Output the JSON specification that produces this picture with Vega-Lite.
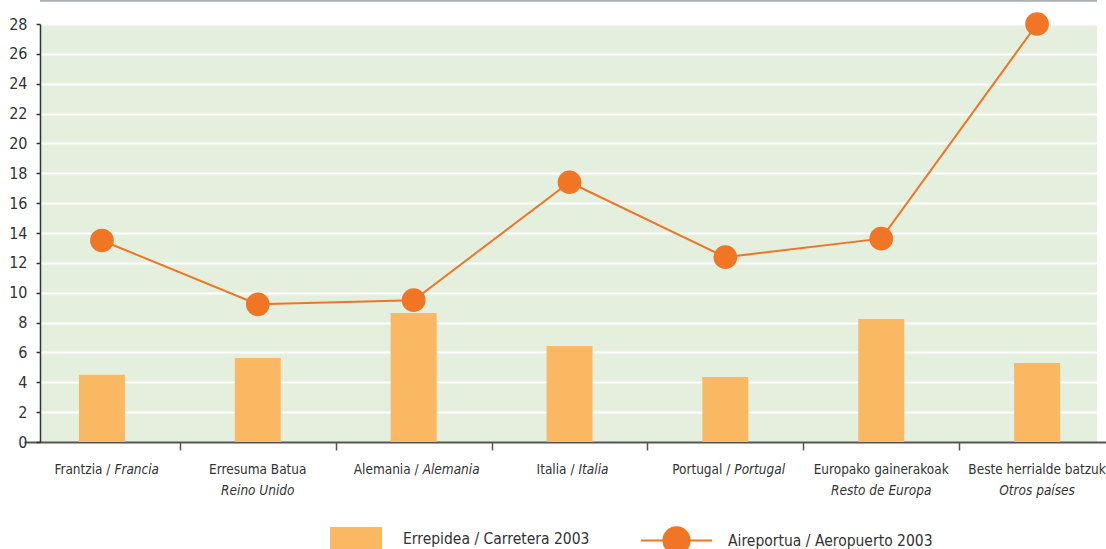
{
  "$schema": "https://vega.github.io/schema/vega-lite/v6.json",
  "width": 1057,
  "height": 418,
  "autosize": {"type": "none"},
  "padding": {"left": 40, "top": 24, "right": 9, "bottom": 107},
  "background": "white",
  "config": {
    "view": {"fill": "#E4EFDE", "stroke": null},
    "font": "Liberation Sans Narrow, DejaVu Sans Condensed, sans-serif",
    "axisY": {"tickCount": 30, "labelOverlap": false}
  },
  "data": {
    "values": [
      {"eu": "Frantzia", "n1": "Frantzia /", "i1": "Francia", "i2": "", "road": 4.5, "air": 13.5},
      {"eu": "Erresuma Batua", "n1": "Erresuma Batua", "i1": "", "i2": "Reino Unido", "road": 5.63, "air": 9.22},
      {"eu": "Alemania", "n1": "Alemania /", "i1": "Alemania", "i2": "", "road": 8.64, "air": 9.5},
      {"eu": "Italia", "n1": "Italia /", "i1": "Italia", "i2": "", "road": 6.43, "air": 17.4},
      {"eu": "Portugal", "n1": "Portugal /", "i1": "Portugal", "i2": "", "road": 4.36, "air": 12.38},
      {"eu": "Europako gainerakoak", "n1": "Europako gainerakoak", "i1": "", "i2": "Resto de Europa", "road": 8.24, "air": 13.62},
      {"eu": "Beste herrialde batzuk", "n1": "Beste herrialde batzuk", "i1": "", "i2": "Otros países", "road": 5.3, "air": 28.0}
    ]
  },
  "layer": [
    {
      "mark": {"type": "bar", "width": {"band": 0.295}},
      "encoding": {
        "x": {
          "field": "eu", "type": "nominal", "sort": null,
          "scale": {"range": [-16, 1075], "paddingInner": 0, "paddingOuter": 0},
          "axis": {
            "title": null, "labels": false, "grid": false, "domain": false,
            "tickBand": "extent",
            "values": ["Erresuma Batua", "Alemania", "Italia", "Portugal", "Europako gainerakoak", "Beste herrialde batzuk"],
            "tickColor": "#555", "tickWidth": 1.5, "tickSize": 8
          }
        },
        "y": {
          "field": "road", "type": "quantitative",
          "scale": {"domain": [0, 28], "nice": false},
          "axis": {
            "title": null,
            "values": [0, 2, 4, 6, 8, 10, 12, 14, 16, 18, 20, 22, 24, 26, 28],
            "tickCount": 30,
            "labelOverlap": false,
            "grid": true,
            "gridColor": {"condition": {"test": "datum.value === 0", "value": "#555"}, "value": "white"},
            "gridWidth": 2,
            "domainColor": "#333", "domainWidth": 1.5,
            "tickColor": "#333", "tickSize": 4, "tickWidth": 1.5,
            "labelFontSize": 16, "labelColor": "#333", "labelPadding": 9
          }
        },
        "fill": {
          "datum": "Errepidea / Carretera 2003", "type": "nominal",
          "scale": {"range": ["#FBB862"]},
          "legend": {
            "orient": "none", "legendX": 290, "legendY": 489, "title": null,
            "padding": 0,
            "symbolType": "M-1,-0.46H1V0.46H-1Z", "symbolSize": 2704,
            "symbolStrokeWidth": 0,
            "labelFontSize": 15.5, "labelOffset": 21, "labelColor": "#333", "labelLimit": 400
          }
        }
      }
    },
    {
      "data": {"values": [{"k": 1}]},
      "mark": {"type": "rule", "color": "#A9AFB6", "strokeWidth": 2},
      "encoding": {
        "y": {"datum": 29.55, "type": "quantitative", "axis": {"values": [0, 2, 4, 6, 8, 10, 12, 14, 16, 18, 20, 22, 24, 26, 28], "tickCount": 30}}
      }
    },
    {
      "mark": {"type": "line", "strokeWidth": 2},
      "encoding": {
        "x": {"field": "eu", "type": "nominal", "sort": null},
        "y": {"field": "air", "type": "quantitative", "axis": {"values": [0, 2, 4, 6, 8, 10, 12, 14, 16, 18, 20, 22, 24, 26, 28], "tickCount": 30}},
        "stroke": {
          "datum": "Aireportua / Aeropuerto  2003", "type": "nominal",
          "scale": {"range": ["#F07524"]},
          "legend": {
            "orient": "none", "legendX": 600, "legendY": 480, "title": null,
            "padding": 0,
            "symbolType": "M-1,0H1M0.37,0A0.37,0.37,0,1,1,-0.37,0A0.37,0.37,0,1,1,0.37,0Z",
            "symbolSize": 5041, "symbolStrokeWidth": 2,
            "symbolFillColor": "#F07524", "symbolStrokeColor": "#F07524",
            "labelFontSize": 15.5, "labelOffset": 15, "labelColor": "#333", "labelLimit": 400
          }
        }
      }
    },
    {
      "mark": {"type": "point", "filled": true, "color": "#F07524", "opacity": 1, "size": 560},
      "encoding": {
        "x": {"field": "eu", "type": "nominal", "sort": null},
        "y": {"field": "air", "type": "quantitative", "axis": {"values": [0, 2, 4, 6, 8, 10, 12, 14, 16, 18, 20, 22, 24, 26, 28], "tickCount": 30}}
      }
    },
    {
      "mark": {
        "type": "text", "fontSize": 13.5, "color": "#333", "baseline": "middle",
        "align": {"expr": "datum.i1 ? 'right' : 'center'"},
        "dy": 28,
        "dx": {"expr": "datum.i1 ? (length(datum.n1) - length(datum.i1)) * 3.5 - 2 : 0"}
      },
      "encoding": {
        "x": {"field": "eu", "type": "nominal", "sort": null},
        "y": {"datum": 0, "type": "quantitative", "axis": {"values": [0, 2, 4, 6, 8, 10, 12, 14, 16, 18, 20, 22, 24, 26, 28], "tickCount": 30}},
        "text": {"field": "n1"}
      }
    },
    {
      "mark": {
        "type": "text", "fontSize": 13.5, "fontStyle": "italic", "color": "#333", "baseline": "middle", "align": "left",
        "dy": 28,
        "dx": {"expr": "(length(datum.n1) - length(datum.i1)) * 3.5 + 2"}
      },
      "encoding": {
        "x": {"field": "eu", "type": "nominal", "sort": null},
        "y": {"datum": 0, "type": "quantitative", "axis": {"values": [0, 2, 4, 6, 8, 10, 12, 14, 16, 18, 20, 22, 24, 26, 28], "tickCount": 30}},
        "text": {"field": "i1"}
      }
    },
    {
      "mark": {
        "type": "text", "fontSize": 13.5, "fontStyle": "italic", "color": "#333", "baseline": "middle", "align": "center",
        "dy": 49
      },
      "encoding": {
        "x": {"field": "eu", "type": "nominal", "sort": null},
        "y": {"datum": 0, "type": "quantitative", "axis": {"values": [0, 2, 4, 6, 8, 10, 12, 14, 16, 18, 20, 22, 24, 26, 28], "tickCount": 30}},
        "text": {"field": "i2"}
      }
    }
  ]
}
